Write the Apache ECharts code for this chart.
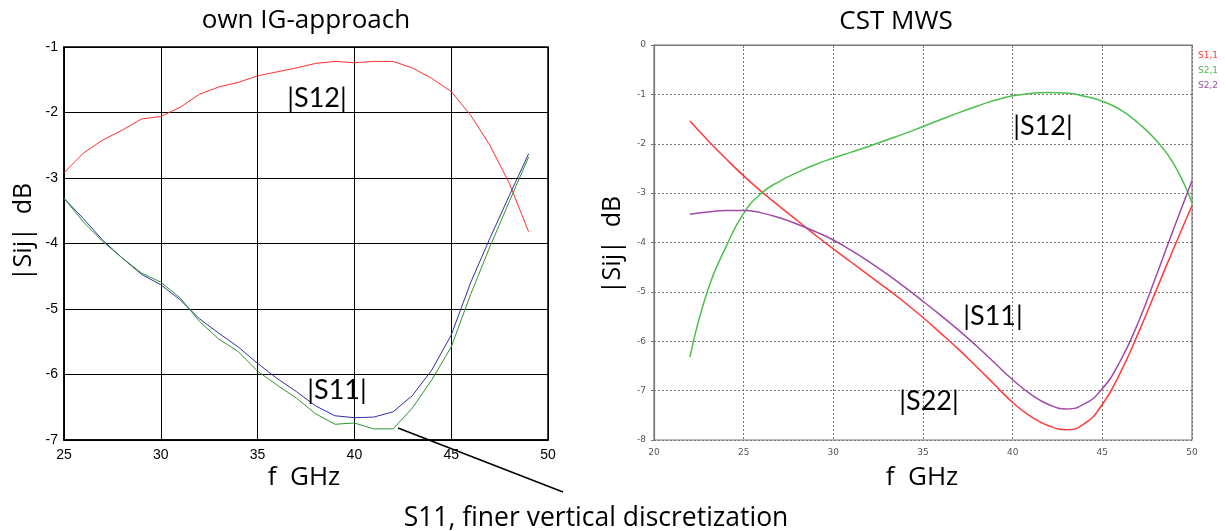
<!DOCTYPE html>
<html>
<head>
<meta charset="utf-8">
<script src="https://cdn.jsdelivr.net/npm/echarts@6/dist/echarts.min.js"></script>
<style>
    html, body { margin: 0; padding: 0; background: #fff; }
    #chart { width: 1225px; height: 531px; }
</style>
</head>
<body>
<div id="chart"></div>
<script>
    // left plot: own IG-approach, 25..49 GHz
    var freqOwn = [25, 26, 27, 28, 29, 30, 31, 32, 33, 34, 35, 36, 37, 38, 39, 40, 41, 42, 43, 44, 45, 46, 47, 48, 49];
    var s12Own = [-2.92, -2.62, -2.42, -2.27, -2.10, -2.06, -1.92, -1.72, -1.61, -1.54, -1.44, -1.38, -1.32, -1.25, -1.22, -1.24, -1.22, -1.22, -1.32, -1.48, -1.68, -2.04, -2.50, -3.08, -3.82];
    var s11Own = [-3.31, -3.62, -3.95, -4.22, -4.47, -4.63, -4.86, -5.15, -5.37, -5.58, -5.83, -6.06, -6.26, -6.48, -6.63, -6.66, -6.65, -6.57, -6.32, -5.93, -5.40, -4.60, -3.92, -3.27, -2.63];
    var s11Fine = [-3.31, -3.67, -3.97, -4.22, -4.45, -4.59, -4.83, -5.19, -5.46, -5.65, -5.95, -6.16, -6.36, -6.60, -6.76, -6.74, -6.83, -6.83, -6.51, -6.08, -5.58, -4.78, -4.05, -3.36, -2.68];

    // right plot: CST MWS, 22..50 GHz
    var freqCst = [22, 23, 24, 25, 26, 27, 28, 29, 30, 31, 32, 33, 34, 35, 36, 37, 38, 39, 40, 41, 42, 43, 44, 45, 46, 47, 48, 49, 50];
    var s11Cst = [-1.54, -1.93, -2.30, -2.65, -2.97, -3.27, -3.56, -3.85, -4.13, -4.40, -4.67, -4.94, -5.22, -5.52, -5.84, -6.17, -6.52, -6.88, -7.24, -7.52, -7.71, -7.79, -7.67, -7.28, -6.64, -5.84, -4.97, -4.10, -3.25];
    var s21Cst = [-6.32, -4.96, -4.10, -3.41, -3.00, -2.76, -2.58, -2.42, -2.29, -2.17, -2.05, -1.92, -1.79, -1.65, -1.51, -1.37, -1.24, -1.12, -1.03, -0.98, -0.96, -0.97, -1.04, -1.14, -1.31, -1.58, -1.93, -2.42, -3.20];
    var s22Cst = [-3.43, -3.38, -3.35, -3.35, -3.40, -3.50, -3.63, -3.78, -3.95, -4.16, -4.39, -4.64, -4.91, -5.19, -5.48, -5.78, -6.10, -6.44, -6.78, -7.07, -7.28, -7.37, -7.27, -6.96, -6.40, -5.62, -4.68, -3.70, -2.75];

    var legendNames = ['S1,1', 'S2,1', 'S2,2'];
    var legendColors = ['#ff3b3b', '#4cc04c', '#a04aa8'];

    function pairs(xs, ys) {
        var out = [];
        for (var i = 0; i < xs.length; i++) {
            out.push([xs[i], ys[i]]);
        }
        return out;
    }

    var bigFont = '"Open Sans", "Noto Sans", sans-serif';
    var markFont = 'Lato, "Open Sans", sans-serif';

    var chart = echarts.init(document.getElementById('chart'));
    var option = {
        backgroundColor: '#fff',
        animation: false,
        grid: [
            { left: 64, top: 47, width: 484, height: 393, show: true, borderColor: '#000', borderWidth: 1.5 },
            { left: 654, top: 45, width: 538, height: 395, show: true, borderColor: '#777', borderWidth: 1.2 }
        ],
        xAxis: [
            {
                gridIndex: 0, type: 'value', min: 25, max: 50, interval: 5,
                axisLine: { lineStyle: { color: '#000', width: 1.5 } },
                axisTick: { show: false },
                axisLabel: { color: '#000', fontSize: 14, fontFamily: '"Liberation Sans", Arial', margin: 8 },
                splitLine: { lineStyle: { color: '#000', width: 1 } }
            },
            {
                gridIndex: 1, type: 'value', min: 20, max: 50, interval: 5,
                axisLine: { lineStyle: { color: '#777', width: 1.2 } },
                axisTick: { show: true, length: 3, lineStyle: { color: '#777' } },
                axisLabel: { color: '#555', fontSize: 9, fontFamily: '"DejaVu Sans"', margin: 8 },
                splitLine: { lineStyle: { color: '#777', type: [2, 2], width: 1 } }
            }
        ],
        yAxis: [
            {
                gridIndex: 0, type: 'value', min: -7, max: -1, interval: 1,
                axisLine: { lineStyle: { color: '#000', width: 1.5 } },
                axisTick: { show: false },
                axisLabel: { color: '#000', fontSize: 14, fontFamily: '"Liberation Sans", Arial', margin: 6 },
                splitLine: { lineStyle: { color: '#000', width: 1 } }
            },
            {
                gridIndex: 1, type: 'value', min: -8, max: 0, interval: 1,
                axisLine: { lineStyle: { color: '#777', width: 1.2 } },
                axisTick: { show: true, length: 3, lineStyle: { color: '#777' } },
                axisLabel: { color: '#555', fontSize: 9, fontFamily: '"DejaVu Sans"', margin: 8 },
                splitLine: { lineStyle: { color: '#777', type: [2, 2], width: 1 } }
            }
        ],
        legend: {
            orient: 'vertical',
            left: 1193,
            top: 46,
            itemWidth: 0,
            itemHeight: 0,
            itemGap: 6,
            selectedMode: false,
            textStyle: { fontSize: 9, fontFamily: '"DejaVu Sans"', padding: [0, 0, 0, -5] },
            data: legendNames.map(function (n, i) {
                return { name: n, icon: 'rect', textStyle: { color: legendColors[i] } };
            })
        },
        series: [
            {
                name: 'own S12', type: 'line', xAxisIndex: 0, yAxisIndex: 0,
                data: pairs(freqOwn, s12Own), showSymbol: false,
                lineStyle: { color: '#ff3030', width: 1 }, itemStyle: { color: '#ff3030' }
            },
            {
                name: 'own S11', type: 'line', xAxisIndex: 0, yAxisIndex: 0,
                data: pairs(freqOwn, s11Own), showSymbol: false,
                lineStyle: { color: '#3030a0', width: 1 }, itemStyle: { color: '#3030a0' }
            },
            {
                name: 'own S11 fine', type: 'line', xAxisIndex: 0, yAxisIndex: 0,
                data: pairs(freqOwn, s11Fine), showSymbol: false,
                lineStyle: { color: '#2e962e', width: 1 }, itemStyle: { color: '#2e962e' }
            },
            {
                name: 'S1,1', type: 'line', xAxisIndex: 1, yAxisIndex: 1,
                data: pairs(freqCst, s11Cst), showSymbol: false, smooth: 0.5,
                lineStyle: { color: legendColors[0], width: 1.5 }, itemStyle: { color: legendColors[0] }
            },
            {
                name: 'S2,1', type: 'line', xAxisIndex: 1, yAxisIndex: 1,
                data: pairs(freqCst, s21Cst), showSymbol: false, smooth: 0.5,
                lineStyle: { color: legendColors[1], width: 1.5 }, itemStyle: { color: legendColors[1] }
            },
            {
                name: 'S2,2', type: 'line', xAxisIndex: 1, yAxisIndex: 1,
                data: pairs(freqCst, s22Cst), showSymbol: false, smooth: 0.5,
                lineStyle: { color: legendColors[2], width: 1.5 }, itemStyle: { color: legendColors[2] }
            }
        ],
        graphic: [
            // titles and axis names
            { type: 'text', x: 306, y: 21, style: { text: 'own IG-approach', font: '26px ' + bigFont, fill: '#000', align: 'center', verticalAlign: 'middle' } },
            { type: 'text', x: 896, y: 22, style: { text: 'CST MWS', font: '26px ' + bigFont, fill: '#000', align: 'center', verticalAlign: 'middle' } },
            { type: 'text', x: 24, y: 232, rotation: Math.PI / 2, style: { text: '|Sij|  dB', font: '25px ' + bigFont, fill: '#000', align: 'center', verticalAlign: 'middle' } },
            { type: 'text', x: 613, y: 245, rotation: Math.PI / 2, style: { text: '|Sij|  dB', font: '25px ' + bigFont, fill: '#000', align: 'center', verticalAlign: 'middle' } },
            { type: 'text', x: 304, y: 478, style: { text: 'f  GHz', font: '26px ' + bigFont, fill: '#000', align: 'center', verticalAlign: 'middle' } },
            { type: 'text', x: 922, y: 478, style: { text: 'f  GHz', font: '26px ' + bigFont, fill: '#000', align: 'center', verticalAlign: 'middle' } },
            // curve annotations
            { type: 'text', x: 317, y: 98, z: 10, style: { text: '|S12|', font: '27px ' + markFont, fill: '#000', align: 'center', verticalAlign: 'middle' } },
            { type: 'text', x: 337, y: 390, z: 10, style: { text: '|S11|', font: '27px ' + markFont, fill: '#000', align: 'center', verticalAlign: 'middle' } },
            { type: 'text', x: 1043, y: 126, z: 10, style: { text: '|S12|', font: '27px ' + markFont, fill: '#000', align: 'center', verticalAlign: 'middle' } },
            { type: 'text', x: 993, y: 316, z: 10, style: { text: '|S11|', font: '27px ' + markFont, fill: '#000', align: 'center', verticalAlign: 'middle' } },
            { type: 'text', x: 929, y: 401, z: 10, style: { text: '|S22|', font: '27px ' + markFont, fill: '#000', align: 'center', verticalAlign: 'middle' } },
            { type: 'line', z: 10, shape: { x1: 398, y1: 428, x2: 563, y2: 492 }, style: { stroke: '#000', lineWidth: 1.5 } },
            { type: 'text', x: 596, y: 518, z: 10, style: { text: 'S11, finer vertical discretization', font: '26.5px ' + bigFont, fill: '#000', align: 'center', verticalAlign: 'middle' } }
        ]
    };
    chart.setOption(option);
</script>
</body>
</html>
